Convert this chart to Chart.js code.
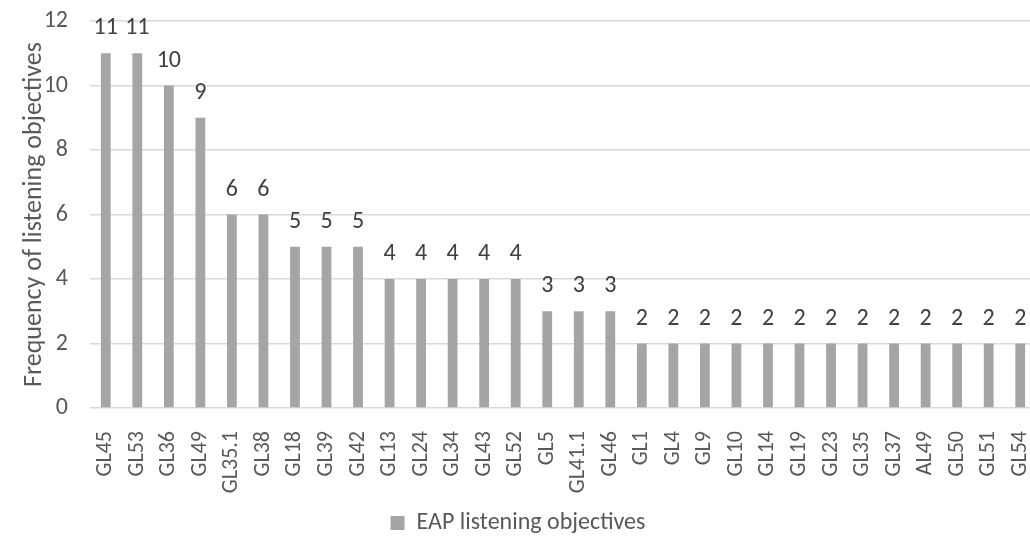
<!DOCTYPE html>
<html>
<head>
<meta charset="utf-8">
<script src="https://cdn.jsdelivr.net/npm/chart.js@4.4.1/dist/chart.umd.min.js"></script>
<style>
  html, body { margin: 0; padding: 0; background: #fff; overflow: hidden; }
  #wrap { width: 1036px; height: 539px; position: relative; }
</style>
</head>
<body>
<div id="wrap"><canvas id="c"></canvas></div>
<script>
const categories = ["GL45","GL53","GL36","GL49","GL35.1","GL38","GL18","GL39","GL42","GL13",
  "GL24","GL34","GL43","GL52","GL5","GL41.1","GL46","GL1","GL4","GL9",
  "GL10","GL14","GL19","GL23","GL35","GL37","AL49","GL50","GL51","GL54"];
const frequencies = [11,11,10,9,6,6,5,5,5,4,4,4,4,4,3,3,3,2,2,2,2,2,2,2,2,2,2,2,2,2];
const seriesName = "EAP listening objectives";
const yTicks = [0,2,4,6,8,10,12];

const FONT = "Carlito, Lato, sans-serif";
const TEXT = "#595959";

// Value labels written above each bar
const valueLabels = {
  id: "valueLabels",
  afterDatasetsDraw(chart) {
    const ctx = chart.ctx;
    const meta = chart.getDatasetMeta(0);
    ctx.save();
    ctx.font = "24px " + FONT;
    ctx.fillStyle = "#404040";
    ctx.textAlign = "center";
    ctx.textBaseline = "middle";
    meta.data.forEach((bar, i) => {
      ctx.fillText(String(chart.data.datasets[0].data[i]), bar.x, bar.y - 25);
    });
    ctx.restore();
  }
};

new Chart(document.getElementById("c"), {
  type: "bar",
  data: {
    labels: categories,
    datasets: [{
      label: seriesName,
      data: frequencies,
      backgroundColor: "#A5A5A5",
      borderWidth: 0,
      categoryPercentage: 1,
      barPercentage: 0.31
    }]
  },
  options: {
    responsive: true,
    maintainAspectRatio: false,
    animation: false,
    layout: { padding: { top: 21, left: 0, right: 0, bottom: -6 } },
    plugins: {
      legend: {
        position: "bottom",
        labels: {
          font: { family: FONT, size: 24 },
          color: TEXT,
          boxWidth: 14,
          boxHeight: 14,
          padding: 0
        }
      },
      tooltip: { enabled: false }
    },
    scales: {
      x: {
        grid: { display: false },
        border: { display: false },
        ticks: {
          font: { family: FONT, size: 22 },
          color: TEXT,
          minRotation: 90,
          maxRotation: 90,
          autoSkip: false,
          padding: 15
        },
        afterFit(scale) {
          scale.height = 103;
          scale.paddingLeft = 0;
          scale.paddingRight = 0;
        }
      },
      y: {
        min: 0,
        max: 12,
        afterBuildTicks(scale) { scale.ticks = yTicks.map(v => ({ value: v })); },
        grid: { color: "#D9D9D9", lineWidth: 1.5, drawTicks: false },
        border: { display: false },
        ticks: {
          font: { family: FONT, size: 24 },
          color: TEXT,
          padding: 22
        },
        title: {
          display: true,
          text: "Frequency of listening objectives",
          font: { family: FONT, size: 26 },
          color: TEXT,
          padding: { top: 19, bottom: 0 }
        },
        afterFit(scale) {
          scale.width = 90;
          scale.paddingTop = 0;
          scale.paddingBottom = 0;
        }
      }
    }
  },
  plugins: [valueLabels]
});
</script>
</body>
</html>
